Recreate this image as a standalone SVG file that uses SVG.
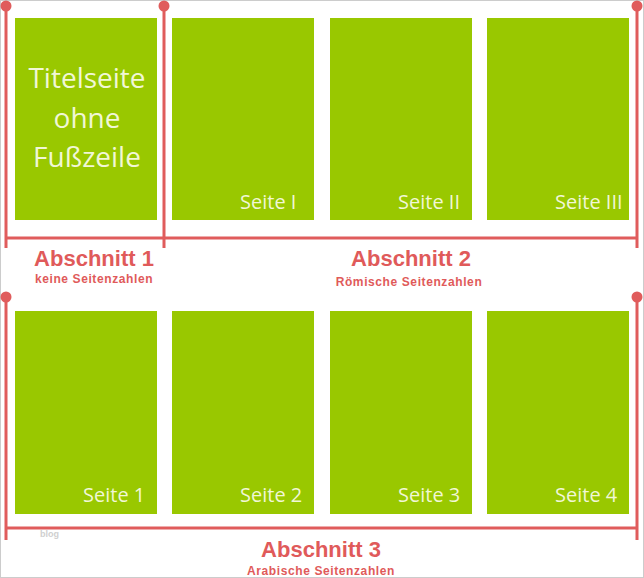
<svg xmlns="http://www.w3.org/2000/svg" width="644" height="578" viewBox="0 0 644 578">
  <style>
    .page { fill: #99c800; }
    .pt { font-family: "Open Sans", "Noto Sans", sans-serif; fill: #f1f7d6; }
    .num { font-size: 20px; }
    .title { font-size: 28px; text-anchor: middle; }
    .ln { stroke: #e05c5c; stroke-width: 3; fill: none; }
    .dot { fill: #e05c5c; }
    .h { font-family: "Liberation Sans", Arial, sans-serif; font-weight: bold; fill: #e05a5a; text-anchor: middle; }
    .h1 { font-size: 22px; }
    .h2 { font-size: 12px; letter-spacing: 0.6px; }
  </style>
  <rect x="0.5" y="0.5" width="643" height="577" fill="#ffffff" stroke="#cccccc" stroke-width="1"/>

  <g id="connectors">
    <path class="ln" d="M6,6 V248 M164,6 V248 M637,6 V248 M6,238 H637"/>
    <circle class="dot" cx="6" cy="6" r="5.5"/>
    <circle class="dot" cx="164" cy="6" r="5.5"/>
    <circle class="dot" cx="637" cy="6" r="5.5"/>
    <path class="ln" d="M6,297 V540 M637,297 V540 M6,528 H637"/>
    <circle class="dot" cx="6" cy="297" r="5.5"/>
    <circle class="dot" cx="637" cy="297" r="5.5"/>
  </g>

  <g id="titelseite">
    <rect class="page" x="15" y="18" width="142" height="202"/>
    <text class="pt title" x="87" y="88">Titelseite</text>
    <text class="pt title" x="87" y="128">ohne</text>
    <text class="pt title" x="87" y="167">Fußzeile</text>
  </g>
  <g id="seite-I">
    <rect class="page" x="172" y="18" width="142" height="202"/>
    <text class="pt num" x="240" y="209">Seite I</text>
  </g>
  <g id="seite-II">
    <rect class="page" x="330" y="18" width="142" height="202"/>
    <text class="pt num" x="398" y="209">Seite II</text>
  </g>
  <g id="seite-III">
    <rect class="page" x="487" y="18" width="142" height="202"/>
    <text class="pt num" x="555" y="209">Seite III</text>
  </g>

  <g id="seite-1">
    <rect class="page" x="15" y="311" width="142" height="203"/>
    <text class="pt num" x="83" y="502">Seite 1</text>
  </g>
  <g id="seite-2">
    <rect class="page" x="172" y="311" width="142" height="203"/>
    <text class="pt num" x="240" y="502">Seite 2</text>
  </g>
  <g id="seite-3">
    <rect class="page" x="330" y="311" width="142" height="203"/>
    <text class="pt num" x="398" y="502">Seite 3</text>
  </g>
  <g id="seite-4">
    <rect class="page" x="487" y="311" width="142" height="203"/>
    <text class="pt num" x="555" y="502">Seite 4</text>
  </g>

  <g id="abschnitt-1">
    <text class="h h1" x="94" y="266">Abschnitt 1</text>
    <text class="h h2" x="94" y="283">keine Seitenzahlen</text>
  </g>
  <g id="abschnitt-2">
    <text class="h h1" x="411" y="266">Abschnitt 2</text>
    <text class="h h2" x="409" y="286">Römische Seitenzahlen</text>
  </g>
  <g id="abschnitt-3">
    <text class="h h1" x="321" y="557">Abschnitt 3</text>
    <text class="h h2" x="321" y="575">Arabische Seitenzahlen</text>
  </g>

  <text x="40" y="537" font-family="Liberation Sans, Arial, sans-serif" font-size="9" font-weight="bold" fill="#cfcfcf">blog</text>
</svg>
